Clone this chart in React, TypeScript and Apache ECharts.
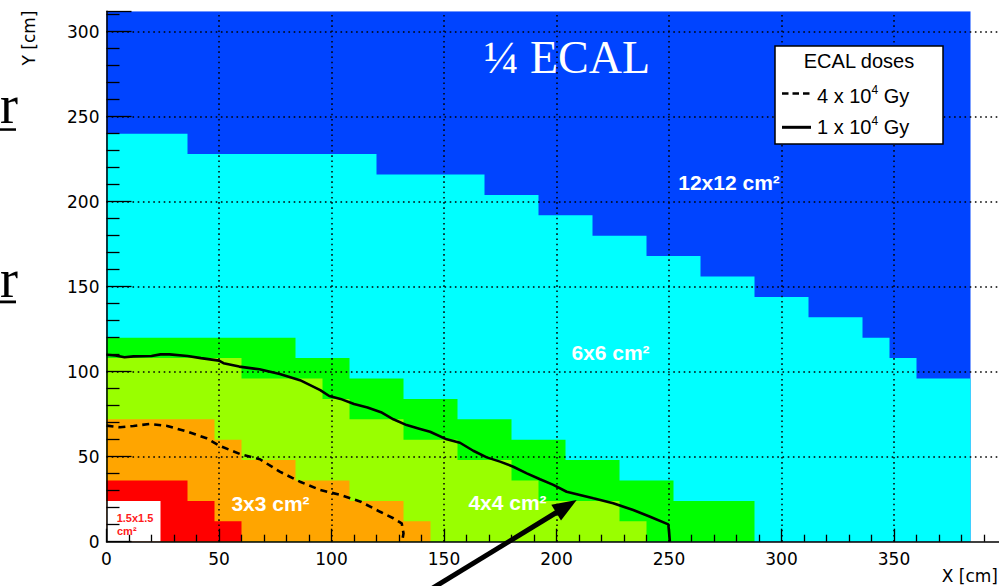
import React, { useEffect, useRef } from 'react';
import * as echarts from 'echarts';

// Segment zones: left bin edges (cm) and upper edge of each zone (cm)
const blueX = [0, 384];
const blueTop = [312, 312];
const cyanX = [0, 36, 120, 168, 192, 216, 240, 264, 288, 312, 336, 348, 360, 384];
const cyanTop = [240, 228, 216, 204, 192, 180, 168, 156, 144, 132, 120, 108, 96, 96];
const greenX = [0, 84, 108, 132, 156, 180, 204, 228, 252, 288];
const greenTop = [120, 108, 96, 84, 72, 60, 48, 36, 24, 24];
const yellowX = [0, 60, 96, 108, 132, 156, 180, 192, 228, 240];
const yellowTop = [108, 96, 84, 72, 60, 48, 36, 24, 12, 12];
const orangeX = [0, 48, 60, 84, 108, 132, 144];
const orangeTop = [72, 60, 48, 36, 24, 12, 12];
const redX = [0, 36, 48, 60];
const redTop = [36, 24, 12, 12];
const whiteX = [0, 24];
const whiteTop = [24, 24];

// Dose contours
const dose4X = [0, 6, 12, 19, 27, 36, 44.5, 50.4, 59.3, 68.2, 77, 86, 95, 104, 113, 121.6, 127.5, 131.2, 132, 131.5];
const dose4Y = [68.3, 67.3, 68.1, 69.2, 68.1, 64.7, 60.8, 56.3, 51.6, 48.5, 41.2, 35.3, 30.4, 27.5, 23.5, 17.6, 13.8, 10.8, 4.9, 1];
const dose1X = [0, 4, 8, 12, 20, 24, 28, 36, 42, 50, 52, 59, 68, 77, 86, 95, 99, 104, 110, 116, 122, 127.5, 133.4, 139, 143.8, 151.2, 157.1, 163, 169, 174.9, 180.8, 186.8, 192.7, 198.6, 204.5, 210.4, 216.4, 225.2, 234.1, 241.6, 249.7, 250.4];
const dose1Y = [110, 109.5, 108.5, 109, 109.2, 110.2, 110.2, 109.2, 108, 106.5, 105, 103, 101.4, 98.6, 95, 89.2, 85.7, 84, 81, 79, 76.2, 72, 68.6, 66.5, 64.7, 60.2, 58.2, 53.5, 49.6, 47.1, 44.1, 40.2, 36.7, 33.4, 29.4, 27.5, 25.5, 22.6, 18.6, 14.7, 10.2, 0];

const gridX = [50, 100, 150, 200, 250, 300, 350];
const gridY = [50, 100, 150, 200, 250, 300];

const zoneLabels = ['12x12 cm²', '6x6 cm²', '4x4 cm²', '3x3 cm²'];
const legendEntries = ['4 x 10{sup|4} Gy', '1 x 10{sup|4} Gy'];

const AXIS_FONT = 'DejaVu Sans';
const SANS = 'Liberation Sans, Arial, sans-serif';
const SERIF = 'Liberation Serif, Times New Roman, serif';

function zone(name: string, xs: number[], ys: number[], color: string) {
  return {
    type: 'line',
    name,
    step: 'end',
    data: xs.map((x, i) => [x, ys[i]]),
    symbol: 'none',
    showSymbol: false,
    lineStyle: { width: 0, color },
    areaStyle: { color, opacity: 1 },
    z: 1,
    silent: true,
  };
}

export default function App() {
  const ref = useRef<HTMLDivElement>(null);
  useEffect(() => {
    if (!ref.current) return;
    const chart = echarts.init(ref.current, undefined, { renderer: 'svg' });
    const labelStyle = (text: string, x: number, y: number) => ({
      type: 'text',
      x,
      y,
      z: 10,
      silent: true,
      style: {
        text,
        fill: '#fff',
        fontFamily: SANS,
        fontWeight: 'bold',
        fontSize: 21,
        align: 'center',
        verticalAlign: 'middle',
      },
    });
    const option: any = {
      animation: false,
      grid: { left: 106.5, top: 11.3, width: 900, height: 530.4, containLabel: false, outerBoundsMode: 'none' },
      xAxis: {
        type: 'value',
        min: 0,
        max: 400,
        interval: 50,
        z: 4,
        axisLine: { show: true, onZero: false, lineStyle: { color: '#000', width: 1.5 } },
        axisTick: { show: true, inside: true, length: 13, lineStyle: { color: '#000', width: 1.3 } },
        minorTick: { show: true, splitNumber: 5, length: 7, lineStyle: { color: '#000', width: 1.3 } },
        splitLine: { show: false },
        minorSplitLine: { show: false },
        axisLabel: { color: '#000', fontFamily: AXIS_FONT, fontSize: 17, margin: 9, showMaxLabel: false },
      },
      yAxis: {
        type: 'value',
        min: 0,
        max: 312,
        interval: 50,
        z: 4,
        axisLine: { show: true, onZero: false, lineStyle: { color: '#000', width: 1.5 } },
        axisTick: { show: true, inside: true, length: 25, lineStyle: { color: '#000', width: 1.3 } },
        minorTick: { show: true, splitNumber: 5, length: 13, lineStyle: { color: '#000', width: 1.3 } },
        splitLine: { show: false },
        minorSplitLine: { show: false },
        axisLabel: { color: '#000', fontFamily: AXIS_FONT, fontSize: 17, margin: 7, showMaxLabel: false },
      },
      series: [
        zone('12x12', blueX, blueTop, '#0044ff'),
        zone('6x6', cyanX, cyanTop, '#00ffff'),
        zone('4x4 outer', greenX, greenTop, '#00ff00'),
        zone('4x4', yellowX, yellowTop, '#99ff00'),
        zone('3x3', orangeX, orangeTop, '#ffa500'),
        zone('1.5x1.5 ring', redX, redTop, '#ff0000'),
        zone('1.5x1.5', whiteX, whiteTop, '#ffffff'),
        {
          type: 'line',
          name: 'grid',
          data: [[0, 0]],
          symbol: 'none',
          showSymbol: false,
          lineStyle: { width: 0 },
          z: 2,
          silent: true,
          markLine: {
            silent: true,
            symbol: 'none',
            z: 2,
            label: { show: false },
            lineStyle: { color: '#000', type: [1.6, 3.6], width: 1.5 },
            data: [...gridX.map((v) => ({ xAxis: v })), ...gridY.map((v) => ({ yAxis: v }))],
          },
        },
        {
          type: 'line',
          name: '4 x 10^4 Gy',
          data: dose4X.map((x, i) => [x, dose4Y[i]]),
          symbol: 'none',
          showSymbol: false,
          lineStyle: { color: '#000', width: 2.6, type: [7, 5] },
          z: 3,
          silent: true,
        },
        {
          type: 'line',
          name: '1 x 10^4 Gy',
          data: dose1X.map((x, i) => [x, dose1Y[i]]),
          symbol: 'none',
          showSymbol: false,
          lineStyle: { color: '#000', width: 2.6 },
          z: 3,
          silent: true,
        },
      ],
      graphic: [
        // title
        {
          type: 'text', x: 567, y: 57, z: 10, silent: true,
          style: { text: '¼ ECAL', fill: '#fff', fontFamily: SERIF, fontSize: 46, align: 'center', verticalAlign: 'middle' },
        },
        labelStyle(zoneLabels[0], 729, 182),
        labelStyle(zoneLabels[1], 610.5, 352),
        labelStyle(zoneLabels[2], 507.5, 502),
        labelStyle(zoneLabels[3], 270.5, 503),
        {
          type: 'text', x: 135, y: 518, z: 10, silent: true,
          style: { text: '1.5x1.5', fill: '#ff1a1a', fontFamily: SANS, fontWeight: 'bold', fontSize: 11, align: 'center', verticalAlign: 'middle' },
        },
        {
          type: 'text', x: 117, y: 531, z: 10, silent: true,
          style: { text: 'cm²', fill: '#ff1a1a', fontFamily: SANS, fontWeight: 'bold', fontSize: 11, align: 'left', verticalAlign: 'middle' },
        },
        // legend
        {
          type: 'rect', z: 10, silent: true,
          shape: { x: 775, y: 46, width: 168, height: 98 },
          style: { fill: '#fff', stroke: '#000', lineWidth: 1.5 },
        },
        {
          type: 'text', x: 859, y: 61, z: 11, silent: true,
          style: { text: 'ECAL doses', fill: '#000', fontFamily: SANS, fontSize: 20, align: 'center', verticalAlign: 'middle' },
        },
        {
          type: 'line', z: 11, silent: true,
          shape: { x1: 782, y1: 93.5, x2: 811, y2: 93.5 },
          style: { stroke: '#000', lineWidth: 2.5, lineDash: [6.5, 4] },
        },
        {
          type: 'line', z: 11, silent: true,
          shape: { x1: 782, y1: 127.3, x2: 811, y2: 127.3 },
          style: { stroke: '#000', lineWidth: 3 },
        },
        ...legendEntries.map((t, i) => ({
          type: 'text', x: 817, y: i === 0 ? 95.5 : 127.2, z: 11, silent: true,
          style: {
            text: t, fill: '#000', fontFamily: SANS, fontSize: 20, lineHeight: 24,
            align: 'left', verticalAlign: 'middle',
            rich: { sup: { fontFamily: SANS, fontSize: 12, lineHeight: 12, verticalAlign: 'top', fill: '#000' } },
          },
        })),
        // axis titles
        {
          type: 'text', x: 29, y: 38, rotation: Math.PI / 2, z: 10, silent: true,
          style: { text: 'Y [cm]', fill: '#000', fontFamily: AXIS_FONT, fontSize: 17, align: 'center', verticalAlign: 'middle' },
        },
        {
          type: 'text', x: 998, y: 576, z: 10, silent: true,
          style: { text: 'X [cm]', fill: '#000', fontFamily: AXIS_FONT, fontSize: 17, align: 'right', verticalAlign: 'middle' },
        },
        // slide fragments at the left edge
        {
          type: 'text', x: 0, y: 105, z: 10, silent: true,
          style: { text: 'r', fill: '#000', fontFamily: SERIF, fontSize: 54, align: 'left', verticalAlign: 'middle' },
        },
        { type: 'rect', z: 10, silent: true, shape: { x: 0, y: 128.3, width: 16, height: 2.5 }, style: { fill: '#000' } },
        {
          type: 'text', x: 0, y: 278.5, z: 10, silent: true,
          style: { text: 'r', fill: '#000', fontFamily: SERIF, fontSize: 54, align: 'left', verticalAlign: 'middle' },
        },
        { type: 'rect', z: 10, silent: true, shape: { x: 0, y: 300.5, width: 16, height: 2.8 }, style: { fill: '#000' } },
        // arrow
        {
          type: 'line', z: 10, silent: true,
          shape: { x1: 423, y1: 594, x2: 558, y2: 511.5 },
          style: { stroke: '#000', lineWidth: 5 },
        },
        {
          type: 'polygon', z: 10, silent: true,
          shape: { points: [[576.7, 500], [561, 520.5], [551.3, 504.7]] },
          style: { fill: '#000' },
        },
      ],
    };
    chart.setOption(option);
    return () => chart.dispose();
  }, []);
  return <div ref={ref} style={{ position: 'absolute', left: 0, top: 0, width: 999, height: 586 }} />;
}
